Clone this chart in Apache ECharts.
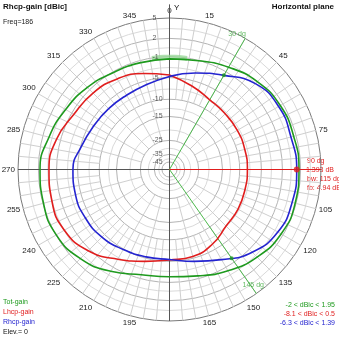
<!DOCTYPE html>
<html>
<head>
<meta charset="utf-8">
<script src="https://cdn.jsdelivr.net/npm/echarts@6/dist/echarts.min.js"></script>
<style>
  html, body { margin: 0; padding: 0; background: #fff; }
  #chart { width: 339px; height: 339px; }
</style>
</head>
<body>
<div id="chart"></div>
<script>
// Azimuth angles (deg) at which the gains are sampled
const angles = [0, 15, 30, 45, 60, 75, 90, 105, 120, 135, 150, 165,
                180, 195, 210, 225, 240, 255, 270, 285, 300, 315, 330, 345];

// Gains in dBic
const totGain  = [-1.4, -1.05, -0.1, 0.9, 1.5, 1.6, 1.75, 1.85, 1.65, 0.85, -0.3, -1.5,
                  -2.0, -1.7, -0.2, 1.2, 1.95, 1.9, 1.75, 1.0, 0.2, -0.45, -1.15, -1.4];
const lhcpGain = [-4.45, -6.15, -7.5, -7.9, -8.0, -8.1, -8.1, -8.05, -7.8, -7.6, -6.25, -5.4,
                  -5.3, -4.35, -2.7, -0.65, 0.45, 0.5, 0.3, -0.3, -1.45, -1.85, -2.5, -3.5];
const rhcpGain = [-4.75, -3.4, -1.75, 0.45, 1.2, 1.15, 1.393, 1.35, 1.05, -0.3, -2.6, -4.35,
                  -5.4, -5.3, -4.9, -4.25, -3.95, -3.9, -4.05, -5.2, -5.95, -6.25, -6.3, -5.8];

// Radial scale rings (dBic) and their labels
const ringLabels = [5, 2, -1, -5, -10, -15, -25, -35, -45];
const ringMinor  = [3.5, 0.5, -3, -7.5, -12.5, -20, -30, -40];

// Beam marker
const markAngle = 90;
const markGain = 1.393;
const beamEdges = [30, 145];
const beamWidth = 115;
const frontBack = 4.94;

// azimuth labels left out where the marker texts sit
const hiddenAngleLabels = [30, 60, 90];

const scaleTop = 5;
// logarithmic radial scale: outer ring = scaleTop dBic
function radiusOf(db) {
  const d = scaleTop - db;
  return Math.exp(-(0.0475 * d + 0.00025 * d * d));
}

function closedCurve(values) {
  const pts = angles.map((a, i) => [radiusOf(values[i]), a]);
  pts.push([radiusOf(values[0]), 360]);
  return pts;
}

function gainAt(values, ang) {
  const n = angles.length;
  for (let i = 0; i < n; i++) {
    const a0 = angles[i], a1 = i + 1 < n ? angles[i + 1] : 360;
    if (ang >= a0 && ang <= a1) {
      const v1 = values[(i + 1) % n];
      const t = (ang - a0) / (a1 - a0);
      return values[i] + (v1 - values[i]) * t;
    }
  }
  return values[0];
}

const GREEN = '#1e9a1e', RED = '#e01e1e', BLUE = '#2424d0';
const FONT = 'Liberation Sans, Arial, sans-serif';

// grid spokes: every 5 deg from the -10 ring, every 15 deg from the -25 ring
const spokes = [];
for (let a = 0; a < 360; a += 5) {
  if (a % 90 === 0) continue;
  spokes.push([a % 15 === 0 ? radiusOf(-25) : radiusOf(-10), a > 180 ? a - 360 : a]);
}

function ringSeries(levels, color) {
  return {
    type: 'custom', coordinateSystem: 'polar', silent: true, z: 1,
    data: levels.map(db => [radiusOf(db), 0]),
    renderItem: (params, api) => {
      const c = api.coord([0, 0]);
      const p = api.coord([api.value(0), 0]);
      return {
        type: 'circle',
        shape: { cx: c[0], cy: c[1], r: Math.hypot(p[0] - c[0], p[1] - c[1]) },
        style: { fill: 'none', stroke: color, lineWidth: 1 }
      };
    }
  };
}

function spokeSeries(data, color, width, z, outer) {
  return {
    type: 'custom', coordinateSystem: 'polar', silent: true, z: z,
    data: data,
    renderItem: (params, api) => {
      const p0 = api.coord([api.value(0), api.value(1)]);
      const p1 = api.coord([outer, api.value(1)]);
      return {
        type: 'line',
        shape: { x1: p0[0], y1: p0[1], x2: p1[0], y2: p1[1] },
        style: { stroke: color, lineWidth: width }
      };
    }
  };
}

function curveSeries(name, values, color) {
  return {
    name: name, type: 'line', coordinateSystem: 'polar', smooth: 0.5,
    symbol: 'none', silent: true, z: 5,
    lineStyle: { color: color, width: 1.6 },
    data: closedCurve(values)
  };
}

const chart = echarts.init(document.getElementById('chart'), null, { renderer: 'canvas' });

// highlight arc across the top of the pattern
const bandArc = [];
for (let a = -9; a <= 9; a += 1) bandArc.push([radiusOf(-1.1), a]);

chart.setOption({
  animation: false,
  backgroundColor: '#fff',
  polar: { center: [169.5, 169.5], radius: 151.5 },
  angleAxis: {
    type: 'value', min: -180, max: 180, interval: 15, startAngle: 270, clockwise: true,
    axisLine: { show: true, lineStyle: { color: '#7a7a7a', width: 1 } },
    axisTick: { show: false },
    splitLine: { show: false },
    axisLabel: {
      show: true, margin: 3, fontSize: 8, color: '#222', fontFamily: FONT,
      formatter: v => {
        if (v <= -180) return '';
        const a = (v + 360) % 360;
        return hiddenAngleLabels.includes(a) ? '' : String(a);
      }
    }
  },
  radiusAxis: {
    type: 'value', min: 0, max: 1,
    axisLine: { show: false }, axisTick: { show: false },
    axisLabel: { show: false }, splitLine: { show: false }
  },
  series: [
    ringSeries(ringMinor, '#dadada'),
    ringSeries(ringLabels.slice(1), '#b4b4b4'),
    spokeSeries(spokes, '#cfcfcf', 1, 1, 1),
    // main axes
    spokeSeries([[0, 0]], '#555', 1, 2, 1.09),
    spokeSeries([[0, 180], [0, -90]], '#555', 1, 2, 1),
    // beam edge spokes
    spokeSeries(beamEdges.map(a => [0, a]), '#4cb84c', 1, 3, 1),
    // marker spoke
    spokeSeries([[0, markAngle]], RED, 1, 3, 1),
    {
      type: 'line', coordinateSystem: 'polar', symbol: 'none', silent: true, z: 4,
      lineStyle: { color: 'rgba(150,215,150,0.75)', width: 5 },
      data: bandArc
    },
    curveSeries('Tot-gain', totGain, GREEN),
    curveSeries('Lhcp-gain', lhcpGain, RED),
    curveSeries('Rhcp-gain', rhcpGain, BLUE),
    // ring value labels
    {
      type: 'scatter', coordinateSystem: 'polar', symbolSize: 0, silent: true, z: 6,
      data: ringLabels.map(db => [radiusOf(db), 0, db]),
      label: {
        show: true, position: [-17, 0], align: 'left', verticalAlign: 'middle',
        fontSize: 7, color: '#333', fontFamily: FONT,
        formatter: p => String(p.value[2])
      }
    },
    // beam edge points on the Rhcp curve
    {
      type: 'scatter', coordinateSystem: 'polar', symbol: 'circle', symbolSize: 4, silent: true, z: 7,
      itemStyle: { color: GREEN },
      data: beamEdges.map(a => [radiusOf(gainAt(rhcpGain, a)), a])
    },
    // beam edge labels
    {
      type: 'scatter', coordinateSystem: 'polar', symbolSize: 0, silent: true, z: 7,
      data: [[1.0, 26.5, beamEdges[0] + ' dg'], [0.94, 144, beamEdges[1] + ' dg']],
      label: {
        show: true, position: 'inside', fontSize: 7, color: '#3aa83a', fontFamily: FONT,
        formatter: p => p.value[2]
      }
    },
    // max marker
    {
      type: 'scatter', coordinateSystem: 'polar', symbol: 'circle', symbolSize: 6, silent: true, z: 8,
      itemStyle: { color: RED },
      data: [[radiusOf(markGain), markAngle]]
    }
  ],
  graphic: [
    { type: 'text', left: 3, top: 3, style: { text: 'Rhcp-gain [dBic]', fontSize: 8, fontWeight: 'bold', fill: '#111', fontFamily: FONT } },
    { type: 'text', left: 3, top: 19, style: { text: 'Freq=186', fontSize: 7, fill: '#222', fontFamily: FONT } },
    { type: 'text', right: 5, top: 3, style: { text: 'Horizontal plane', fontSize: 8, fontWeight: 'bold', fill: '#111', fontFamily: FONT } },
    { type: 'text', left: 174, top: 4, style: { text: 'Y', fontSize: 8, fill: '#111', fontFamily: FONT } },

    { type: 'text', left: 307, top: 158, style: { text: markAngle + ' dg', fontSize: 7, fill: RED, fontFamily: FONT } },
    { type: 'text', left: 306, top: 167, style: { text: markGain + ' dB', fontSize: 7, fill: RED, fontFamily: FONT } },
    { type: 'text', left: 307, top: 176, style: { text: 'bw: ' + beamWidth + ' dg', fontSize: 7, fill: RED, fontFamily: FONT } },
    { type: 'text', left: 307, top: 185, style: { text: 'fb: ' + frontBack + ' dB', fontSize: 7, fill: RED, fontFamily: FONT } },

    { type: 'text', left: 3, top: 299, style: { text: 'Tot-gain', fontSize: 7, fill: GREEN, fontFamily: FONT } },
    { type: 'text', left: 3, top: 309, style: { text: 'Lhcp-gain', fontSize: 7, fill: RED, fontFamily: FONT } },
    { type: 'text', left: 3, top: 319, style: { text: 'Rhcp-gain', fontSize: 7, fill: BLUE, fontFamily: FONT } },
    { type: 'text', left: 3, top: 329, style: { text: 'Elev.= 0', fontSize: 7, fill: '#111', fontFamily: FONT } },

    { type: 'text', right: 4, top: 302, style: { text: Math.min(...totGain) + ' < dBic < ' + Math.max(...totGain), fontSize: 7, fill: GREEN, fontFamily: FONT } },
    { type: 'text', right: 4, top: 311, style: { text: Math.min(...lhcpGain) + ' < dBic < ' + Math.max(...lhcpGain), fontSize: 7, fill: RED, fontFamily: FONT } },
    { type: 'text', right: 4, top: 320, style: { text: Math.min(...rhcpGain) + ' < dBic < ' + Math.max(...rhcpGain).toFixed(2), fontSize: 7, fill: BLUE, fontFamily: FONT } }
  ]
});
</script>
</body>
</html>
